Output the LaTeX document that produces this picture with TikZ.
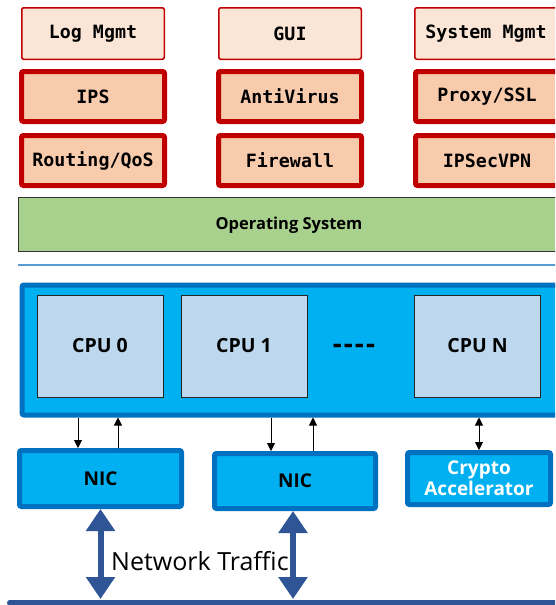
\documentclass[tikz,border=0pt]{standalone}
\usepackage{fontspec}
\setmainfont{Open Sans}
\newfontfamily\monob{DejaVu Sans Mono}
\usetikzlibrary{arrows.meta}
\definecolor{peachL}{HTML}{FBE5D6}
\definecolor{peachD}{HTML}{F8CBAD}
\definecolor{redB}{HTML}{C00000}
\definecolor{osgreen}{HTML}{A9D18E}
\definecolor{lineblue}{HTML}{5B9BD5}
\definecolor{cyanF}{HTML}{00B0F0}
\definecolor{blueB}{HTML}{0070C0}
\definecolor{cpuF}{HTML}{BDD7EE}
\definecolor{navy}{HTML}{2F5597}
\tikzset{
  appL/.style={draw=redB, fill=peachL, line width=1.5pt, rounded corners=2pt,
    minimum width=142.5pt, minimum height=51.5pt, inner sep=0pt,
    font=\monob\bfseries\fontsize{18.3}{20}\selectfont},
  appD/.style={draw=redB, fill=peachD, line width=5pt, rounded corners=2pt,
    minimum width=143pt, minimum height=50pt, inner sep=0pt,
    font=\monob\bfseries\fontsize{18.3}{20}\selectfont},
  hwbox/.style={draw=blueB, fill=cyanF, line width=5pt, rounded corners=2pt, inner sep=0pt},
  cpu/.style={draw=black!85, fill=cpuF, line width=1pt, minimum width=126pt,
    minimum height=102pt, inner sep=0pt, font=\bfseries\fontsize{19.5}{22}\selectfont},
  sarrow/.style={-{Triangle[length=8pt,width=8pt]}, line width=0.9pt, black},
  darrow/.style={{Triangle[length=8pt,width=8pt]}-{Triangle[length=8pt,width=8pt]}, line width=0.9pt, black},
  barrow/.style={{Triangle[length=22pt,width=28pt]}-{Triangle[length=22pt,width=28pt]}, line width=6pt, navy},
}
\begin{document}
\begin{tikzpicture}[x=1pt,y=-1pt]
\clip (0,0) rectangle (555,605);
\fill[white] (0,0) rectangle (555,605);
% top rows
\node[appL] (log) at (93,33.5) {Log Mgmt};
\node[appL] (gui) at (290,33.5) {GUI};
\node[appL] (sys) at (486,33.5) {System Mgmt};
\node[appD] (ips) at (93,96.5) {IPS};
\node[appD] (av) at (290,96.5) {AntiVirus};
\node[appD] (proxy) at (487,96.5) {Proxy/SSL};
\node[appD] (rout) at (93,160.5) {Routing/QoS};
\node[appD] (fw) at (290,160.5) {Firewall};
\node[appD] (vpn) at (487,160.5) {IPSecVPN};
% OS
\node[draw=black!80, fill=osgreen, line width=0.8pt, minimum width=562pt, minimum height=54pt,
  inner sep=0pt, anchor=north west] (os) at (18,197) {};
\node[font=\bfseries\fontsize{16.5}{18}\selectfont] (ostext) at (289,225) {Operating System};
% separator line
\coordinate (sepL) at (18,265);
\coordinate (sepR) at (560,265);
\draw[lineblue, line width=2.2pt] (sepL) -- (sepR);
% CPU box
\node[hwbox, minimum width=560pt, minimum height=130pt, anchor=north west] (cpubox) at (19.5,282.5) {};
\node[cpu] (cpu0) at (100,346) {CPU 0};
\node[cpu] (cpu1) at (244,346) {CPU 1};
\node[cpu] (cpuN) at (477.5,346) {CPU N};
\node[font=\bfseries\fontsize{28}{28}\selectfont, inner sep=0pt] (dots) at (354,349) {-\kern2pt-\kern2pt-\kern2pt-};
% NICs
\node[hwbox, minimum width=162pt, minimum height=56pt, font=\bfseries\fontsize{19}{22}\selectfont] (nic1) at (100.5,478.5) {NIC};
\node[hwbox, minimum width=161pt, minimum height=55pt, font=\bfseries\fontsize{19}{22}\selectfont] (nic2) at (295,481) {NIC};
\node[hwbox, minimum width=143pt, minimum height=52pt, text=white, align=center,
  font=\bfseries\fontsize{19}{23}\selectfont] (crypto) at (479,478.5) {Crypto\\[-2pt]Accelerator};
% small arrows
\draw[sarrow] ([xshift=-22.5pt]nic1.north |- cpubox.south) -- ([xshift=-22.5pt]nic1.north);
\draw[sarrow] ([xshift=17.5pt]nic1.north) -- ([xshift=17.5pt]nic1.north |- cpubox.south);
\draw[sarrow] ([xshift=-24pt]nic2.north |- cpubox.south) -- ([xshift=-24pt]nic2.north);
\draw[sarrow] ([xshift=18pt]nic2.north) -- ([xshift=18pt]nic2.north |- cpubox.south);
\draw[darrow] (crypto.north |- cpubox.south) -- (crypto.north);
% network
\coordinate (netL) at (10,602.5);
\coordinate (netR) at (560,602.5);
\draw[navy, line width=6pt, line cap=round] (netL) -- (netR);
\draw[barrow] (nic1.south) -- (nic1.south |- 0,599);
\draw[barrow] ([xshift=-2pt]nic2.south) -- ([xshift=-2pt]nic2.south |- 0,599);
\node[font=\fontsize{25}{28}\selectfont, anchor=west, inner sep=0pt] (traffic) at (111,561) {Network Traffic};
\end{tikzpicture}
\end{document}
